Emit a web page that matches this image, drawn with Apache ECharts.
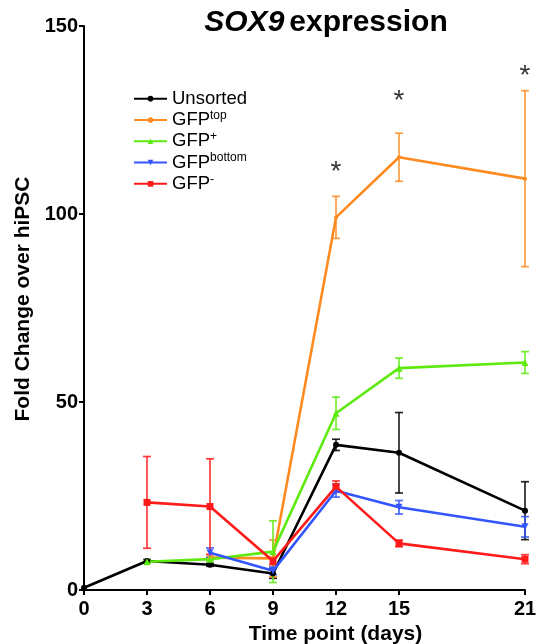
<!DOCTYPE html>
<html><head><meta charset="utf-8">
<script src="https://cdn.jsdelivr.net/npm/echarts@6/dist/echarts.min.js"></script>
<style>html,body{margin:0;padding:0;background:#fff}#c{width:542px;height:644px}</style>
</head><body><div id="c"></div>
<script>
const days = [0, 3, 6, 9, 12, 15, 21];
const xTicks = [0, 3, 6, 9, 12, 15, 21];
const yTicks = [0, 50, 100, 150];
const seriesNames = ['Unsorted', 'GFPtop', 'GFP+', 'GFPbottom', 'GFP-'];
const unsorted = [0.6, 7.7, 6.7, 4.4, 38.6, 36.5, 21.1];
const unsortedSd = [0, 0.4, 0.4, 1.3, 1.5, 10.7, 7.7];
const gfpTop = [null, null, 8.6, 8.4, 99.1, 115.1, 109.4];
const gfpTopSd = [null, null, 0.4, 4.9, 5.6, 6.4, 23.4];
const gfpPlus = [null, 7.5, 8.2, 10.2, 47.0, 59.0, 60.5];
const gfpPlusSd = [null, 0.4, 0.4, 8.2, 4.3, 2.7, 2.9];
const gfpBottom = [null, null, 9.9, 5.1, 26.4, 22.0, 16.8];
const gfpBottomSd = [null, null, 1.3, 1.0, 1.7, 1.8, 2.7];
const gfpNeg = [null, 23.3, 22.2, 7.7, 27.5, 12.4, 8.2];
const gfpNegSd = [null, 12.2, 12.7, 1.0, 1.5, 0.9, 1.2];
const starDays = [12, 15, 21];
const starValues = [111.0, 130.0, 136.6];

const colors = ['#000000', '#FF8A1F', '#5FEA0F', '#3355FF', '#FF1A1A'];
const symbols = ['circle', 'circle', 'triangle', 'triangle', 'rect'];
const symSizes = [6, 4, 7, 7, 7];
const symRot = [0, 0, 0, 180, 0];
const allVals = [unsorted, gfpTop, gfpPlus, gfpBottom, gfpNeg];
const allSd = [unsortedSd, gfpTopSd, gfpPlusSd, gfpBottomSd, gfpNegSd];

const FONT = 'Liberation Sans, Arial, sans-serif';
const series = [];
allVals.forEach((vals, i) => {
  const pts = [], eb = [];
  days.forEach((d, k) => {
    if (vals[k] == null) return;
    pts.push([d, vals[k]]);
    if (allSd[i][k]) eb.push([d, vals[k] - allSd[i][k], vals[k] + allSd[i][k]]);
  });
  series.push({
    type: 'custom', name: seriesNames[i] + '_err', data: eb, z: 2, silent: true,
    renderItem: function (params, api) {
      const x = api.value(0);
      const lo = api.coord([x, api.value(1)]);
      const hi = api.coord([x, api.value(2)]);
      const w = 4;
      const st = { stroke: colors[i], lineWidth: 1.7, opacity: 0.85 };
      return { type: 'group', children: [
        { type: 'line', shape: { x1: lo[0], y1: lo[1], x2: hi[0], y2: hi[1] }, style: st },
        { type: 'line', shape: { x1: lo[0] - w, y1: lo[1], x2: lo[0] + w, y2: lo[1] }, style: st },
        { type: 'line', shape: { x1: hi[0] - w, y1: hi[1], x2: hi[0] + w, y2: hi[1] }, style: st }
      ]};
    }
  });
  series.push({
    type: 'line', name: seriesNames[i], data: pts, z: 3,
    symbol: symbols[i], symbolSize: symSizes[i], symbolRotate: symRot[i], showAllSymbol: true,
    lineStyle: { color: colors[i], width: 2.6 }, itemStyle: { color: colors[i] }
  });
});
series.push({
  type: 'scatter', name: 'stars', data: starDays.map((d, k) => [d, starValues[k]]),
  symbolSize: 0, silent: true,
  label: { show: true, position: 'inside', formatter: '*', fontSize: 28, color: '#000', fontFamily: FONT }
});

const supMap = { 'GFPtop': 'GFP{s|top}', 'GFP+': 'GFP{s|+}', 'GFPbottom': 'GFP{s|bottom}', 'GFP-': 'GFP{s|-}', 'Unsorted': 'Unsorted' };

const chart = echarts.init(document.getElementById('c'));
chart.setOption({
  animation: false,
  backgroundColor: '#fff',
  title: {
    text: '{i|SOX9} {b|expression}', left: 321, top: 3, textAlign: 'center',
    textStyle: { rich: {
      i: { fontSize: 30, fontWeight: 'bold', fontStyle: 'italic', fontFamily: FONT, color: '#000' },
      b: { fontSize: 30, fontWeight: 'bold', fontFamily: FONT, color: '#000' }
    } }
  },
  legend: {
    data: seriesNames, orient: 'vertical', left: 128, top: 83, itemGap: 0,
    itemWidth: 33, itemHeight: 7,
    formatter: n => supMap[n],
    textStyle: { fontSize: 18.5, fontFamily: FONT, color: '#000', lineHeight: 21.3,
      rich: { s: { fontSize: 12, fontFamily: FONT, color: '#000', verticalAlign: 'top', lineHeight: 12 } } }
  },
  grid: { left: 84, right: 17, top: 26, bottom: 54, outerBoundsMode: 'none', containLabel: false },
  xAxis: {
    type: 'value', min: 0, max: 21, interval: 3,
    name: 'Time point (days)', nameLocation: 'middle', nameGap: 28,
    nameTextStyle: { fontSize: 21, fontWeight: 'bold', fontFamily: FONT, color: '#000', padding: [0, 0, 0, 62] },
    axisLine: { lineStyle: { color: '#000', width: 2 } },
    axisTick: { show: true, length: 5, lineStyle: { color: '#000', width: 2 }, customValues: xTicks },
    axisLabel: { fontSize: 20, fontWeight: 'bold', fontFamily: FONT, color: '#000', margin: 9, customValues: xTicks },
    splitLine: { show: false }
  },
  yAxis: {
    type: 'value', min: 0, max: 150, interval: 50,
    name: 'Fold Change over hiPSC', nameLocation: 'middle', nameGap: 50,
    nameTextStyle: { fontSize: 21, fontWeight: 'bold', fontFamily: FONT, color: '#000', padding: [0, 0, 0, 18] },
    axisLine: { show: true, lineStyle: { color: '#000', width: 2 } },
    axisTick: { show: true, length: 5, lineStyle: { color: '#000', width: 2 } },
    axisLabel: { fontSize: 20, fontWeight: 'bold', fontFamily: FONT, color: '#000', margin: 6, customValues: yTicks },
    splitLine: { show: false }
  },
  series: series
});
</script></body></html>
